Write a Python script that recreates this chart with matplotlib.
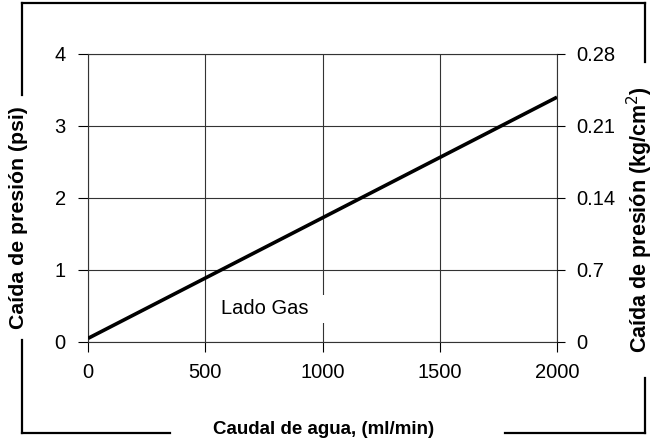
import matplotlib.pyplot as plt
from matplotlib.lines import Line2D
from matplotlib.patches import Rectangle

plt.rcParams['font.family'] = ['Liberation Sans', 'DejaVu Sans']

# datos
caudal = [0, 2000]          # ml/min
caida_psi = [0.05, 3.40]    # psi
x_ticks = [0, 500, 1000, 1500, 2000]
y_ticks = [0, 1, 2, 3, 4]
y2_ticks = [0, 0.07, 0.14, 0.21, 0.28]
y2_labels = ['0', '0.7', '0.14', '0.21', '0.28']

fig = plt.figure(figsize=(6.54, 4.45), dpi=100)
ax = fig.add_axes([0.1346, 0.2315, 0.7171, 0.6472])

ax.plot(caudal, caida_psi, color='black', lw=2.6, zorder=5, solid_capstyle='butt')
ax.set_xlim(0, 2000)
ax.set_ylim(0, 4)
ax.set_xticks(x_ticks)
ax.set_yticks(y_ticks)
ax.grid(True, color='#333333', lw=0.8)
for s in ['top', 'bottom', 'left', 'right']:
    ax.spines[s].set_color('#333333')
    ax.spines[s].set_linewidth(0.8)
ax.tick_params(direction='out', length=7, width=0.8, labelsize=14.5, pad=9)
ax.tick_params(axis='x', pad=8)

ax2 = ax.twinx()
ax2.set_ylim(0, 0.28)
ax2.set_yticks(y2_ticks)
ax2.set_yticklabels(y2_labels)
ax2.tick_params(direction='out', length=6, width=0.8, labelsize=14.5, pad=8)
for s in ax2.spines.values():
    s.set_visible(False)

# etiqueta "Lado Gas" con fondo blanco
ax.add_patch(Rectangle((520, 0.27), 490, 0.38, facecolor='white', edgecolor='none', zorder=3))
ax.text(755, 0.47, 'Lado Gas', ha='center', va='center', fontsize=14.5, zorder=4)

# marco exterior
lw = 1.6
fig.add_artist(Line2D([0.034, 0.986], [0.993, 0.993], color='black', lw=lw))
fig.add_artist(Line2D([0.034, 0.034], [0.993, 0.787], color='black', lw=lw))
fig.add_artist(Line2D([0.034, 0.034], [0.236, 0.027], color='black', lw=lw))
fig.add_artist(Line2D([0.034, 0.26], [0.027, 0.027], color='black', lw=lw))
fig.add_artist(Line2D([0.772, 0.986], [0.027, 0.027], color='black', lw=lw))
fig.add_artist(Line2D([0.986, 0.986], [0.993, 0.861], color='black', lw=lw))
fig.add_artist(Line2D([0.986, 0.986], [0.151, 0.027], color='black', lw=lw))

fig.text(0.028, 0.51, 'Caída de presión (psi)', rotation=90, ha='center', va='center',
         fontsize=15.3, fontweight='bold')
fig.text(0.978, 0.506, 'Caída de presión (kg/cm$^2$)', rotation=90, ha='center', va='center',
         fontsize=15.5, fontweight='bold')
fig.text(0.494, 0.034, 'Caudal de agua, (ml/min)', ha='center', va='center',
         fontsize=13.5, fontweight='bold')

fig.savefig('out.png', dpi=100)
